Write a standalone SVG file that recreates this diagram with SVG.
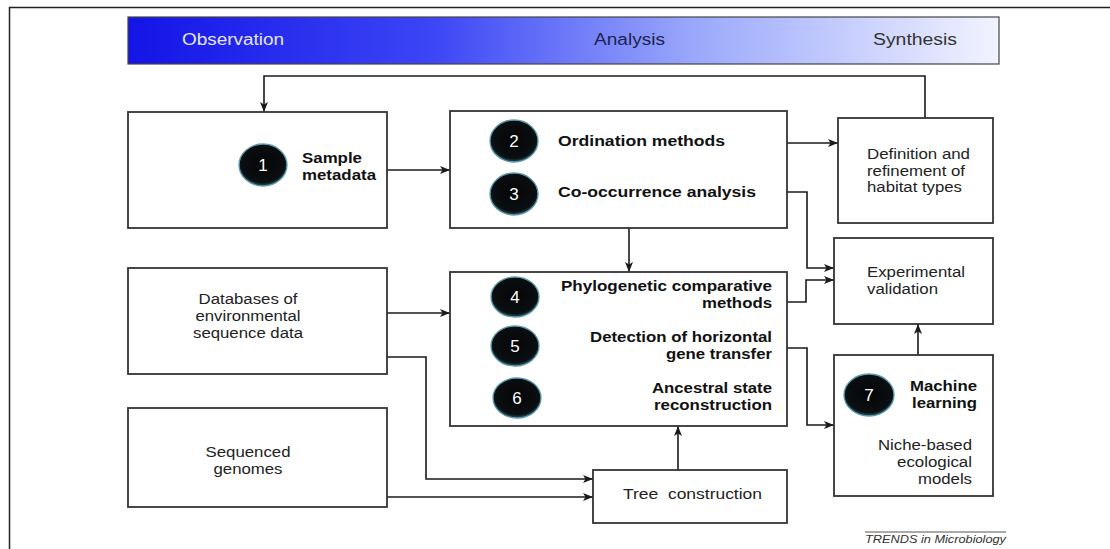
<svg xmlns="http://www.w3.org/2000/svg" width="1110" height="549" viewBox="0 0 1110 549">
  <defs>
    <linearGradient id="hdr" x1="0" y1="0" x2="1" y2="0">
      <stop offset="0" stop-color="#1414e6"/>
      <stop offset="0.35" stop-color="#3c46f5"/>
      <stop offset="0.65" stop-color="#9aa8fb"/>
      <stop offset="1" stop-color="#f2f3ff"/>
    </linearGradient>
    <radialGradient id="dot" cx="0.5" cy="0.45" r="0.55">
      <stop offset="0" stop-color="#050505"/>
      <stop offset="0.85" stop-color="#0b0f12"/>
      <stop offset="1" stop-color="#2c5866"/>
    </radialGradient>
    <marker id="ah" viewBox="0 0 10 8" refX="10" refY="4" markerWidth="10" markerHeight="8" markerUnits="userSpaceOnUse" orient="auto">
      <path d="M0,0 L10,4 L0,8 L2.5,4 Z" fill="#1a1a1a"/>
    </marker>
    <style>
      .box { fill: #ffffff; stroke: #333333; stroke-width: 1.8; }
      .t { font-family: "Liberation Sans", Arial, sans-serif; font-size: 14px; fill: #222222; }
      .b { font-family: "Liberation Sans", Arial, sans-serif; font-size: 14px; font-weight: bold; fill: #111111; }
      .num { font-family: "Liberation Sans", Arial, sans-serif; font-size: 17px; fill: #ffffff; text-anchor: middle; }
      .dot { fill: url(#dot); stroke: #5b9aac; stroke-width: 1.3; }
      .hd { font-family: "Liberation Sans", Arial, sans-serif; font-size: 16px; }
      .c { fill: none; stroke: #1a1a1a; stroke-width: 1.6; marker-end: url(#ah); }
      .cn { fill: none; stroke: #1a1a1a; stroke-width: 1.6; }
    </style>
  </defs>

  <rect x="0" y="0" width="1110" height="549" fill="#ffffff"/>
  <!-- frame -->
  <path d="M1110,7.5 H9.5 V549" fill="none" stroke="#222222" stroke-width="1.5"/>

  <!-- header -->
  <g id="header">
    <rect x="128" y="17" width="871" height="47" fill="url(#hdr)" stroke="#444444" stroke-width="1.2"/>
    <text class="hd" x="182" y="45" textLength="102" lengthAdjust="spacingAndGlyphs" fill="#e4e6f4">Observation</text>
    <text class="hd" x="594" y="45" textLength="71" lengthAdjust="spacingAndGlyphs" fill="#1c2350">Analysis</text>
    <text class="hd" x="873" y="45" textLength="84" lengthAdjust="spacingAndGlyphs" fill="#333333">Synthesis</text>
  </g>

  <!-- connectors -->
  <g id="connectors">
    <path class="c" d="M925,118 V76 H264 V112"/>
    <path class="c" d="M387,170 H450"/>
    <path class="c" d="M787,143 H838"/>
    <path class="c" d="M787,192 H807 V268 H834"/>
    <path class="c" d="M629,228 V272"/>
    <path class="c" d="M387,313 H450"/>
    <path class="c" d="M387,357 H426 V479 H593"/>
    <path class="c" d="M387,497 H593"/>
    <path class="c" d="M678,470 V426"/>
    <path class="c" d="M787,302 H806 V280 H834"/>
    <path class="c" d="M787,348 H807 V425 H834"/>
    <path class="c" d="M918,355 V324"/>
  </g>

  <g id="sample-metadata">
    <rect class="box" x="128" y="112" width="259" height="116"/>
    <ellipse class="dot" cx="263" cy="165" rx="24" ry="21"/>
    <text class="num" x="263" y="171">1</text>
    <text class="b" x="302" y="163" textLength="60" lengthAdjust="spacingAndGlyphs">Sample</text>
    <text class="b" x="302" y="180" textLength="74" lengthAdjust="spacingAndGlyphs">metadata</text>
  </g>

  <g id="ordination">
    <rect class="box" x="450" y="111" width="337" height="117"/>
    <ellipse class="dot" cx="514" cy="141" rx="24" ry="21"/>
    <text class="num" x="514" y="147">2</text>
    <ellipse class="dot" cx="514" cy="194" rx="24" ry="21"/>
    <text class="num" x="514" y="200">3</text>
    <text class="b" x="558" y="146" textLength="167" lengthAdjust="spacingAndGlyphs">Ordination methods</text>
    <text class="b" x="558" y="197" textLength="198" lengthAdjust="spacingAndGlyphs">Co-occurrence analysis</text>
  </g>

  <g id="definition">
    <rect class="box" x="838" y="118" width="155" height="105"/>
    <text class="t" x="867" y="159" textLength="103" lengthAdjust="spacingAndGlyphs">Definition and</text>
    <text class="t" x="867" y="176" textLength="98" lengthAdjust="spacingAndGlyphs">refinement of</text>
    <text class="t" x="867" y="192" textLength="95" lengthAdjust="spacingAndGlyphs">habitat types</text>
  </g>

  <g id="experimental">
    <rect class="box" x="834" y="238" width="159" height="86"/>
    <text class="t" x="867" y="277" textLength="98" lengthAdjust="spacingAndGlyphs">Experimental</text>
    <text class="t" x="867" y="294" textLength="71" lengthAdjust="spacingAndGlyphs">validation</text>
  </g>

  <g id="databases">
    <rect class="box" x="128" y="268" width="259" height="106"/>
    <text class="t" x="248" y="304" text-anchor="middle" textLength="99" lengthAdjust="spacingAndGlyphs">Databases of</text>
    <text class="t" x="248" y="321" text-anchor="middle" textLength="105" lengthAdjust="spacingAndGlyphs">environmental</text>
    <text class="t" x="248" y="338" text-anchor="middle" textLength="110" lengthAdjust="spacingAndGlyphs">sequence data</text>
  </g>

  <g id="phylogenetic">
    <rect class="box" x="450" y="272" width="337" height="154"/>
    <ellipse class="dot" cx="515" cy="297" rx="24" ry="20"/>
    <text class="num" x="515" y="303">4</text>
    <ellipse class="dot" cx="515" cy="346" rx="24" ry="20"/>
    <text class="num" x="515" y="352">5</text>
    <ellipse class="dot" cx="517" cy="398" rx="24" ry="20"/>
    <text class="num" x="517" y="404">6</text>
    <text class="b" x="772" y="291" text-anchor="end" textLength="211" lengthAdjust="spacingAndGlyphs">Phylogenetic comparative</text>
    <text class="b" x="772" y="308" text-anchor="end" textLength="70" lengthAdjust="spacingAndGlyphs">methods</text>
    <text class="b" x="772" y="342" text-anchor="end" textLength="182" lengthAdjust="spacingAndGlyphs">Detection of horizontal</text>
    <text class="b" x="772" y="359" text-anchor="end" textLength="106" lengthAdjust="spacingAndGlyphs">gene transfer</text>
    <text class="b" x="772" y="393" text-anchor="end" textLength="120" lengthAdjust="spacingAndGlyphs">Ancestral state</text>
    <text class="b" x="772" y="410" text-anchor="end" textLength="118" lengthAdjust="spacingAndGlyphs">reconstruction</text>
  </g>

  <g id="machine-learning">
    <rect class="box" x="834" y="355" width="159" height="141"/>
    <ellipse class="dot" cx="869" cy="395" rx="25" ry="21"/>
    <text class="num" x="869" y="401">7</text>
    <text class="b" x="977" y="391" text-anchor="end" textLength="67" lengthAdjust="spacingAndGlyphs">Machine</text>
    <text class="b" x="977" y="408" text-anchor="end" textLength="65" lengthAdjust="spacingAndGlyphs">learning</text>
    <text class="t" x="972" y="450" text-anchor="end" textLength="94" lengthAdjust="spacingAndGlyphs">Niche-based</text>
    <text class="t" x="972" y="467" text-anchor="end" textLength="75" lengthAdjust="spacingAndGlyphs">ecological</text>
    <text class="t" x="972" y="484" text-anchor="end" textLength="54" lengthAdjust="spacingAndGlyphs">models</text>
  </g>

  <g id="sequenced-genomes">
    <rect class="box" x="128" y="408" width="259" height="99"/>
    <text class="t" x="248" y="457" text-anchor="middle" textLength="85" lengthAdjust="spacingAndGlyphs">Sequenced</text>
    <text class="t" x="248" y="474" text-anchor="middle" textLength="69" lengthAdjust="spacingAndGlyphs">genomes</text>
  </g>

  <g id="tree-construction">
    <rect class="box" x="593" y="470" width="194" height="53"/>
    <text class="t" x="623" y="499" textLength="139" lengthAdjust="spacingAndGlyphs" xml:space="preserve">Tree  construction</text>
  </g>

  <g id="credit">
    <line x1="865" y1="532" x2="1006" y2="532" stroke="#555555" stroke-width="1"/>
    <text x="865" y="543" font-family="Liberation Sans, Arial, sans-serif" font-size="11" font-style="italic" fill="#333333" textLength="141" lengthAdjust="spacingAndGlyphs">TRENDS in Microbiology</text>
  </g>
</svg>
